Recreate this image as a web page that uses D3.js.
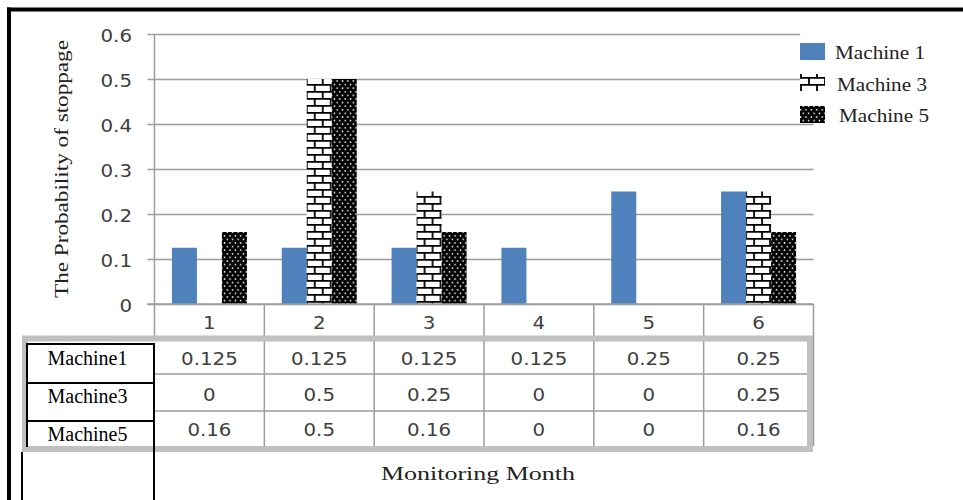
<!DOCTYPE html>
<html>
<head>
<meta charset="utf-8">
<script src="https://cdn.jsdelivr.net/npm/d3@7/dist/d3.min.js"></script>
<style>
  html, body { margin: 0; padding: 0; background: #fff; }
  svg { display: block; }
</style>
</head>
<body>
<svg id="chart" width="963" height="500"></svg>
<script>
// Monitoring months and stoppage probabilities per machine
const months = ["1", "2", "3", "4", "5", "6"];
const machine1 = [0.125, 0.125, 0.125, 0.125, 0.25, 0.25];
const machine3 = [0, 0.5, 0.25, 0, 0, 0.25];
const machine5 = [0.16, 0.5, 0.16, 0, 0, 0.16];
const seriesNames = ["Machine 1", "Machine 3", "Machine 5"];
const rowLabels = ["Machine1", "Machine3", "Machine5"];
const yTicks = [0, 0.1, 0.2, 0.3, 0.4, 0.5, 0.6];

const seriesValues = [machine1, machine3, machine5];
const seriesFills = ["#4f81bd", "url(#brick)", "url(#dots)"];

const svg = d3.select("#chart");
const SANS = "'DejaVu Sans', Verdana, sans-serif";
const SERIF = "'Liberation Serif', 'Times New Roman', serif";
const GRID = "#9c9c9c";
const TEXT = "#404040";

// ---- fill patterns ----
const defs = svg.append("defs");
const brick = defs.append("pattern").attr("id", "brick")
  .attr("patternUnits", "userSpaceOnUse").attr("width", 16).attr("height", 14);
brick.append("rect").attr("width", 16).attr("height", 14).attr("fill", "#fff");
brick.append("path")
  .attr("d", "M0,0.9H16M0,7.9H16M1,0V7.9M9,7.9V14")
  .attr("stroke", "#000").attr("stroke-width", 1.8).attr("fill", "none");

const dots = defs.append("pattern").attr("id", "dots")
  .attr("patternUnits", "userSpaceOnUse").attr("width", 5.4).attr("height", 7.2);
dots.append("rect").attr("width", 5.4).attr("height", 7.2).attr("fill", "#000");
dots.append("circle").attr("cx", 1.35).attr("cy", 1.8).attr("r", 0.85).attr("fill", "#fff");
dots.append("circle").attr("cx", 4.05).attr("cy", 5.4).attr("r", 0.85).attr("fill", "#fff");

// ---- scales ----
const plotLeft = 154.5, plotRight = 813.5, plotTop = 34, plotBottom = 304;
const x = d3.scaleBand().domain(months).range([plotLeft, plotRight]).padding(0);
const groupW = 75;
const xInner = d3.scaleBand().domain(seriesNames).range([0, groupW]).padding(0);
const y = d3.scaleLinear().domain([0, 0.6]).range([plotBottom, plotTop]);

// sans text, slightly widened horizontally
function sansText(g, tx, ty, str, anchor, size) {
  return g.append("text")
    .attr("transform", `translate(${tx},${ty}) scale(1.1,1)`)
    .attr("text-anchor", anchor)
    .attr("font-family", SANS)
    .attr("font-size", size || 18)
    .attr("fill", TEXT)
    .text(str);
}

// ---- gridlines and y axis ----
const yAxis = d3.axisLeft(y).tickValues(yTicks).tickSize(-(plotRight - plotLeft)).tickFormat("");
const yg = svg.append("g").attr("transform", `translate(${plotLeft},0)`).call(yAxis);
yg.select(".domain").remove();
yg.selectAll(".tick line").attr("stroke", GRID).attr("stroke-width", 1.5).attr("x1", -7);

yTicks.forEach(t => sansText(svg, 132, y(t) + 7.5, String(t), "end"));

// y axis line continues down to the table
svg.append("line").attr("x1", plotLeft).attr("x2", plotLeft)
  .attr("y1", plotTop).attr("y2", 336).attr("stroke", GRID).attr("stroke-width", 1.5);

// ---- bars ----
const groups = svg.append("g").selectAll("g").data(months).join("g")
  .attr("transform", d => `translate(${x(d) + (x.bandwidth() - groupW) / 2},0)`);
groups.each(function (m, i) {
  d3.select(this).selectAll("rect")
    .data(seriesNames.map((s, k) => ({ s, v: seriesValues[k][i], fill: seriesFills[k] })))
    .join("rect")
    .attr("x", d => xInner(d.s))
    .attr("width", xInner.bandwidth())
    .attr("y", d => y(d.v))
    .attr("height", d => y(0) - y(d.v))
    .attr("fill", d => d.fill);
});

// ---- category row + data table ----
const tableTop = 343, tableBottom = 446;
const rowLines = [374, 411];
const rowBaselines = [365, 401, 436];
const boundaries = months.map(m => x(m)).concat([plotRight]);

boundaries.slice(1).forEach(bx => {
  svg.append("line").attr("x1", bx).attr("x2", bx).attr("y1", plotBottom).attr("y2", tableBottom)
    .attr("stroke", GRID).attr("stroke-width", 1.5);
});
rowLines.forEach(ry => {
  svg.append("line").attr("x1", plotLeft).attr("x2", plotRight).attr("y1", ry).attr("y2", ry)
    .attr("stroke", GRID).attr("stroke-width", 1.5);
});
// zero line
svg.append("line").attr("x1", plotLeft - 7).attr("x2", plotRight).attr("y1", y(0)).attr("y2", y(0))
  .attr("stroke", GRID).attr("stroke-width", 1.5);

months.forEach(m => sansText(svg, x(m) + x.bandwidth() / 2, 329, m, "middle"));

seriesValues.forEach((vals, r) => {
  vals.forEach((v, i) => {
    sansText(svg, x(months[i]) + x.bandwidth() / 2, rowBaselines[r], String(v), "middle");
  });
});

// light grey table frame
svg.append("rect").attr("x", 25).attr("y", 338.5).attr("width", 785).attr("height", 110.5)
  .attr("fill", "none").attr("stroke", "#c0c0c0").attr("stroke-width", 6);

// black row-label cells
const blk = svg.append("g").attr("stroke", "#000").attr("stroke-width", 2).attr("fill", "none");
[344, 383, 421].forEach(hy => blk.append("line").attr("x1", 27).attr("x2", 154).attr("y1", hy).attr("y2", hy));
blk.append("line").attr("x1", 27).attr("x2", 27).attr("y1", 343).attr("y2", 447);
blk.append("line").attr("x1", 154).attr("x2", 154).attr("y1", 343).attr("y2", 500);
blk.append("line").attr("x1", 22).attr("x2", 22).attr("y1", 452).attr("y2", 500);

[365, 403, 441].forEach((by, k) => {
  svg.append("text").attr("x", 87.5).attr("y", by).attr("text-anchor", "middle")
    .attr("font-family", SERIF).attr("font-size", 20).attr("fill", "#000")
    .text(rowLabels[k]);
});

// ---- axis titles ----
svg.append("text")
  .attr("transform", `translate(68,169) rotate(-90)`)
  .attr("text-anchor", "middle")
  .attr("font-family", SERIF).attr("font-size", 19).attr("fill", "#222")
  .attr("textLength", 258).attr("lengthAdjust", "spacingAndGlyphs")
  .text("The Probability of stoppage");

svg.append("text")
  .attr("x", 381).attr("y", 480)
  .attr("font-family", SERIF).attr("font-size", 19).attr("fill", "#222")
  .attr("textLength", 194).attr("lengthAdjust", "spacingAndGlyphs")
  .text("Monitoring Month");

// ---- legend ----
const legend = svg.append("g");
legend.append("rect").attr("x", 800).attr("y", 30).attr("width", 163).attr("height", 90).attr("fill", "#fff");
const legendY = [43, 74, 106];
const legendBase = [59, 91, 122];
const legendTextX = [835, 837, 839];
seriesNames.forEach((s, k) => {
  legend.append("rect").attr("x", 800).attr("y", legendY[k]).attr("width", 25).attr("height", 17)
    .attr("fill", seriesFills[k]);
  legend.append("text").attr("x", legendTextX[k]).attr("y", legendBase[k])
    .attr("font-family", SERIF).attr("font-size", 18).attr("fill", "#222")
    .attr("textLength", 90).attr("lengthAdjust", "spacingAndGlyphs")
    .text(s);
});

// ---- outer frame ----
svg.append("line").attr("x1", 7).attr("x2", 963).attr("y1", 9.5).attr("y2", 9.5)
  .attr("stroke", "#000").attr("stroke-width", 4);
svg.append("line").attr("x1", 9).attr("x2", 9).attr("y1", 7.5).attr("y2", 500)
  .attr("stroke", "#000").attr("stroke-width", 4);
</script>
</body>
</html>
